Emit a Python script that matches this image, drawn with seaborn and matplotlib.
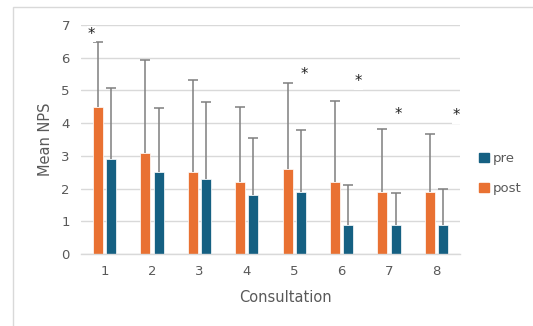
import numpy as np
import pandas as pd
import seaborn as sns
import matplotlib.pyplot as plt
from matplotlib.patches import Rectangle, Patch

consultation = ['1', '2', '3', '4', '5', '6', '7', '8']
post_mean = [4.5, 3.1, 2.5, 2.2, 2.6, 2.2, 1.9, 1.9]
pre_mean = [2.9, 2.5, 2.3, 1.8, 1.9, 0.9, 0.9, 0.9]
# upper end of the error bars
post_top = [6.47, 5.93, 5.32, 4.5, 5.22, 4.69, 3.81, 3.68]
pre_top = [5.07, 4.46, 4.66, 3.55, 3.8, 2.11, 1.87, 1.99]
# significance stars (category index, offset, height)
star_idx = [0, 4, 5, 6, 7]
star_dx = [-0.28, 0.21, 0.36, 0.19, 0.42]
star_y = [6.72, 5.5, 5.26, 4.28, 4.22]

orange = '#E97132'
blue = '#156082'
grey_txt = '#595959'

df = pd.DataFrame({
    'Consultation': consultation * 2,
    'Mean NPS': post_mean + pre_mean,
    'group': ['post'] * 8 + ['pre'] * 8,
})

sns.set_style('white')
plt.rcParams['font.family'] = ['DejaVu Sans']

fig = plt.figure(figsize=(5.33, 3.26), dpi=100)
ax = fig.add_axes([0.152, 0.221, 0.711, 0.702])

sns.barplot(data=df, x='Consultation', y='Mean NPS', hue='group',
            hue_order=['post', 'pre'], palette={'post': orange, 'pre': blue},
            width=0.56, gap=0.25, saturation=1, legend=False, ax=ax, zorder=2,
            edgecolor='white', linewidth=0.5)

# one-sided error bars, cap only at the top
tops = post_top + pre_top
for p, top in zip(ax.patches[:16], tops):
    xc = p.get_x() + p.get_width() / 2
    h = p.get_height()
    eb = ax.errorbar(xc, h, yerr=[[0], [top - h]], fmt='none', ecolor='#7f7f7f',
                     elinewidth=1.1, capsize=3.5, capthick=1.1, zorder=3)
    eb[1][0].set_visible(False)

for i, dx, y in zip(star_idx, star_dx, star_y):
    ax.text(i + dx, y, '*', ha='center', va='center', fontsize=10.5,
            color='#222222', zorder=4,
            bbox=dict(boxstyle='square,pad=0.05', fc='white', ec='none'))

ax.set_ylim(0, 7)
ax.set_xlim(-0.5, 7.5)
ax.set_yticks(range(0, 8))
ax.yaxis.grid(True, color='#d9d9d9', linewidth=1, zorder=0)
ax.set_axisbelow(True)
for s in ['top', 'right', 'left']:
    ax.spines[s].set_visible(False)
ax.spines['bottom'].set_color('#d9d9d9')
ax.spines['bottom'].set_linewidth(1)
ax.tick_params(axis='both', length=0, labelsize=9.5, colors=grey_txt, pad=8)
ax.set_xlabel('Consultation', fontsize=10.5, color=grey_txt)
ax.xaxis.set_label_coords(0.54, -0.158)
ax.set_ylabel('Mean NPS', fontsize=10.5, color=grey_txt, labelpad=6)

handles = [Patch(color=blue, label='pre'), Patch(color=orange, label='post')]
ax.legend(handles=handles, loc='center left', bbox_to_anchor=(1.02, 0.35),
          frameon=False, fontsize=9.5, labelcolor=grey_txt, handlelength=0.7,
          handleheight=0.7, handletextpad=0.3, labelspacing=1.3)

# chart area border
fig.patches.append(Rectangle((13 / 533, -0.05), 1.1, 1 - 7 / 326 + 0.05,
                             transform=fig.transFigure, fill=False,
                             edgecolor='#d9d9d9', linewidth=1))

fig.savefig('out.png', dpi=100)
